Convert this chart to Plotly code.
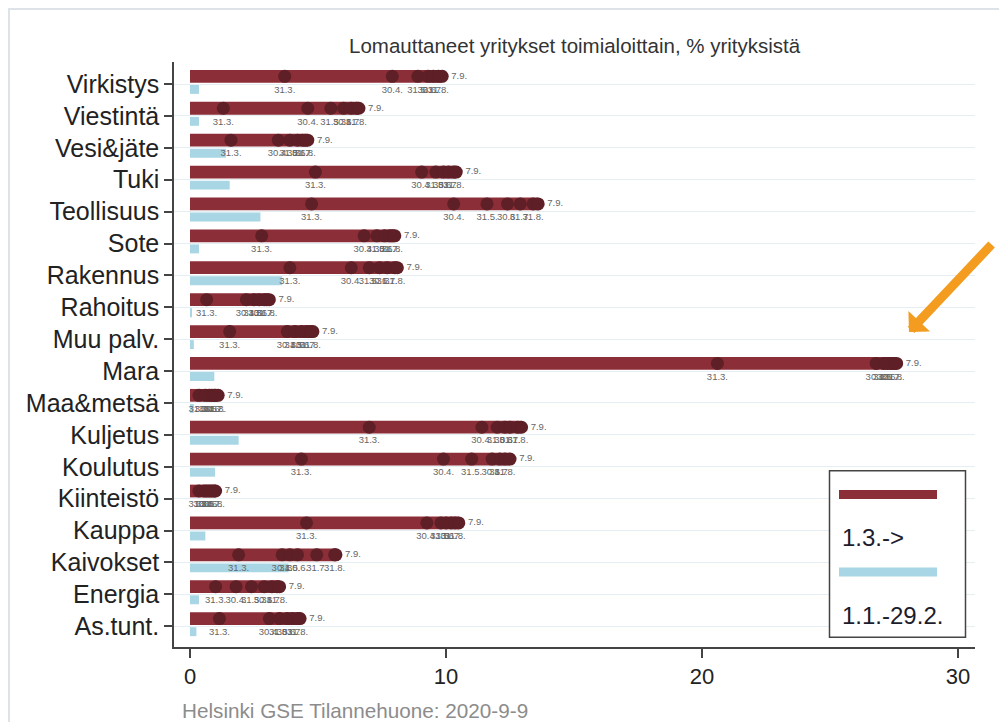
import plotly.graph_objects as go

# ---------------- data ----------------
categories = ["Virkistys", "Viestintä", "Vesi&jäte", "Tuki", "Teollisuus", "Sote",
              "Rakennus", "Rahoitus", "Muu palv.", "Mara", "Maa&metsä", "Kuljetus",
              "Koulutus", "Kiinteistö", "Kauppa", "Kaivokset", "Energia", "As.tunt."]

date_labels = ["31.3.", "30.4.", "31.5.", "30.6.", "31.7.", "31.8.", "7.9."]

v_31_3 = [3.7, 1.3, 1.6, 4.9, 4.75, 2.8, 3.9, 0.65, 1.55, 20.6, 0.35, 7.0, 4.35, 0.35, 4.55, 1.9, 1.0, 1.15]
v_30_4 = [7.9, 4.6, 3.45, 9.05, 10.3, 6.8, 6.3, 2.2, 3.8, 26.8, 0.6, 11.4, 9.9, 0.55, 9.25, 3.6, 1.8, 3.1]
v_31_5 = [8.9, 5.5, 3.9, 9.6, 11.6, 7.3, 7.0, 2.5, 4.1, 27.1, 0.75, 12.0, 11.0, 0.65, 9.8, 3.9, 2.4, 3.5]
v_30_6 = [9.3, 6.0, 4.2, 9.9, 12.4, 7.6, 7.4, 2.7, 4.35, 27.25, 0.85, 12.3, 11.8, 0.75, 10.0, 4.2, 2.9, 3.8]
v_31_7 = [9.5, 6.3, 4.4, 10.1, 12.9, 7.8, 7.7, 2.9, 4.55, 27.4, 0.95, 12.5, 12.1, 0.85, 10.2, 4.95, 3.2, 4.0]
v_31_8 = [9.7, 6.5, 4.5, 10.3, 13.4, 7.9, 8.0, 3.0, 4.7, 27.5, 1.0, 12.8, 12.3, 0.95, 10.35, 5.65, 3.4, 4.2]
v_7_9 = [9.85, 6.6, 4.6, 10.4, 13.6, 8.0, 8.1, 3.1, 4.8, 27.6, 1.1, 12.95, 12.5, 1.0, 10.5, 5.7, 3.5, 4.3]
baseline = [0.35, 0.35, 1.4, 1.55, 2.75, 0.35, 3.6, 0.05, 0.15, 0.95, 0.15, 1.9, 0.98, 0.0, 0.6, 3.85, 0.35, 0.25]

series = [v_31_3, v_30_4, v_31_5, v_30_6, v_31_7, v_31_8, v_7_9]

x_ticks = [0, 10, 20, 30]
title_text = "Lomauttaneet yritykset toimialoittain, % yrityksistä"
caption_text = "Helsinki GSE Tilannehuone: 2020-9-9"
legend_labels = ["1.3.->", "1.1.-29.2."]

# ---------------- style ----------------
RED = "#8c2e37"
DOT = "#5e1f27"
BLUE = "#a8d6e4"
FONT = "Liberation Sans, Arial, sans-serif"

n = len(categories)
pos = [n - 1 - k for k in range(n)]
red_shift = 0.24

fig = go.Figure()

fig.add_trace(go.Bar(orientation="h", x=baseline, y=pos, width=0.28, offset=-0.31,
                     marker=dict(color=BLUE, line=dict(width=0)), showlegend=False,
                     hoverinfo="skip"))
fig.add_trace(go.Bar(orientation="h", x=v_7_9, y=pos, width=0.40, offset=0.04,
                     marker=dict(color=RED, line=dict(width=0)), showlegend=False,
                     hoverinfo="skip"))

xs, ys, txt, tpos = [], [], [], []
for k in range(n):
    for d, s in enumerate(series):
        xs.append(s[k])
        ys.append(pos[k] + red_shift)
        txt.append(date_labels[d])
        tpos.append("middle right" if d == len(series) - 1 else "bottom center")

fig.add_trace(go.Scatter(x=xs, y=ys, mode="markers+text", text=txt, textposition=tpos,
                         textfont=dict(size=9.5, color="#666666", family=FONT),
                         marker=dict(size=13, color=DOT, line=dict(width=0)),
                         cliponaxis=False, showlegend=False))

# page body has an 8px margin: figure pixel = screen pixel - 8
OFF = 8
W, H = 1007 - OFF, 722 - OFF
L, R, T, B = 174 - OFF, 975 - OFF, 62 - OFF, 647 - OFF
pw, ph = R - L, B - T
def px(xs_):
    return (xs_ - OFF - L) / pw
def py(ys_):
    return (B - (ys_ - OFF)) / ph

fig.update_layout(
    width=W, height=H, autosize=False,
    margin=dict(l=L, r=W - R, t=T, b=H - B),
    plot_bgcolor="white", paper_bgcolor="white",
    barmode="overlay",
    font=dict(family=FONT, color="#222222"),
    xaxis=dict(range=[-0.625, 30.66], tickvals=x_ticks, ticks="outside", ticklen=9,
               tickwidth=1.5, tickcolor="#444444", showline=True, linecolor="#444444",
               linewidth=1.5, showgrid=False, zeroline=False,
               tickfont=dict(size=22, color="#222222")),
    yaxis=dict(range=[-0.65, 17.69], tickvals=pos, ticktext=categories, ticks="outside",
               ticklen=8, tickwidth=1.5, tickcolor="#444444", showline=True,
               linecolor="#444444", linewidth=1.5, showgrid=True, gridcolor="#e4eef3",
               gridwidth=1.2, zeroline=False, tickfont=dict(size=25, color="#222222")),
)

annotations = [
    dict(text=title_text, xref="paper", yref="paper", x=0.5, y=py(45), xanchor="center",
         yanchor="middle", showarrow=False, font=dict(size=20.5, color="#333333")),
    dict(text=caption_text, xref="paper", yref="paper", x=px(180), y=py(710),
         xanchor="left", yanchor="middle", showarrow=False,
         font=dict(size=20.7, color="#8c8c8c")),
    dict(text=legend_labels[0], xref="paper", yref="paper", x=px(840), y=py(537),
         xanchor="left", yanchor="middle", showarrow=False,
         font=dict(size=24, color="#1c1c2c")),
    dict(text=legend_labels[1], xref="paper", yref="paper", x=px(840), y=py(615),
         xanchor="left", yanchor="middle", showarrow=False,
         font=dict(size=24, color="#1c1c2c")),
    dict(text="", xref="paper", yref="paper", x=px(909), y=py(332), ax=84, ay=-89,
         showarrow=True, arrowhead=1, arrowsize=0.55, arrowwidth=9,
         arrowcolor="#f39c1f", standoff=0),
]
fig.update_layout(annotations=annotations)

shapes = [
    dict(type="rect", xref="paper", yref="paper", x0=px(9), x1=px(1000), y0=py(760), y1=py(9),
         line=dict(color="#dde3e8", width=2), fillcolor="rgba(0,0,0,0)", layer="above"),
    dict(type="rect", xref="paper", yref="paper", x0=px(829.5), x1=px(965.5),
         y0=py(637.3), y1=py(470.7), line=dict(color="#444444", width=1.5),
         fillcolor="white", layer="above"),
    dict(type="line", xref="paper", yref="paper", x0=px(839), x1=px(937),
         y0=py(494.5), y1=py(494.5), line=dict(color=RED, width=9)),
    dict(type="line", xref="paper", yref="paper", x0=px(839), x1=px(937),
         y0=py(572), y1=py(572), line=dict(color=BLUE, width=9)),
]
fig.update_layout(shapes=shapes)

fig.write_html("out.html")
